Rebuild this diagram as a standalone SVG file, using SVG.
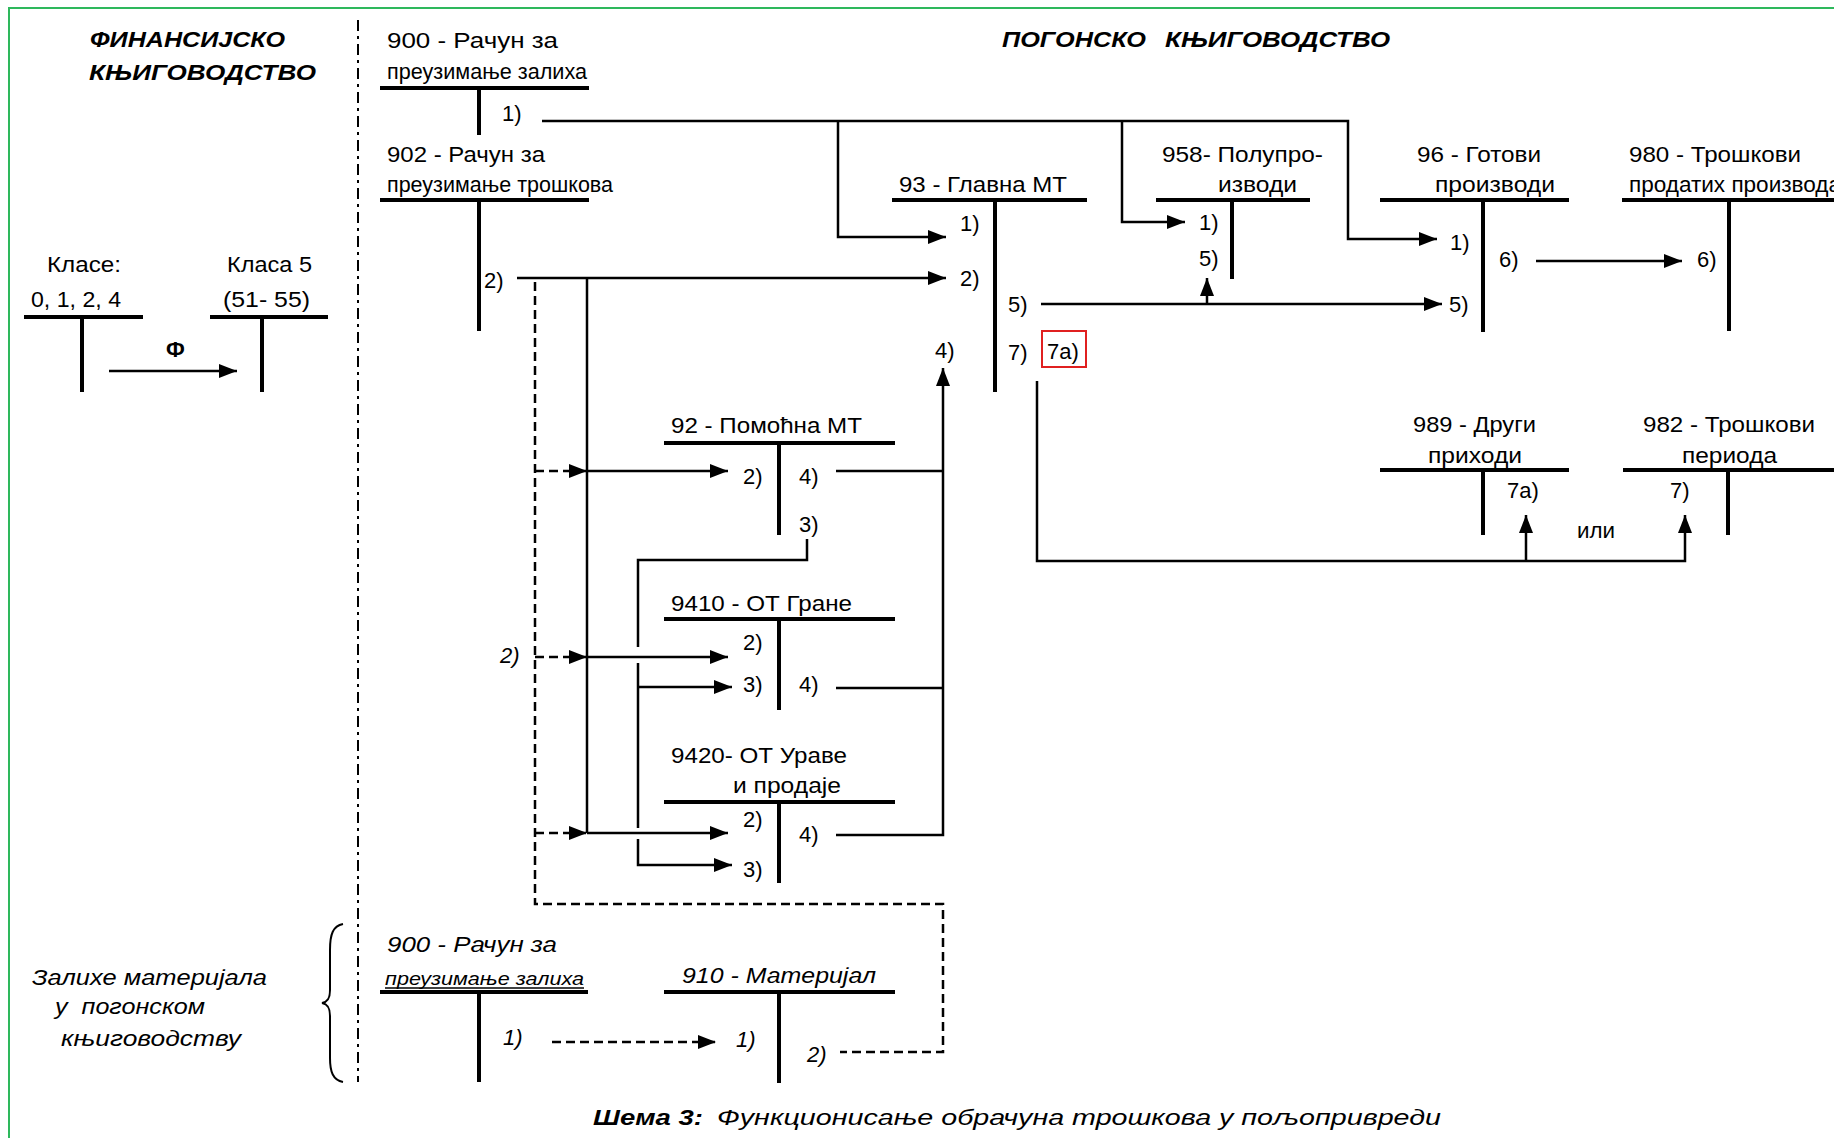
<svg xmlns="http://www.w3.org/2000/svg" width="1834" height="1138" viewBox="0 0 1834 1138">
<style>
text{font-family:"Liberation Sans",Arial,sans-serif;font-size:22px;fill:#000}
.b{font-weight:bold;font-style:italic}
.i{font-style:italic}
.bar{stroke:#000;stroke-width:4;fill:none}
.c{stroke:#000;stroke-width:2.5;fill:none}
.d{stroke:#000;stroke-width:2.5;fill:none;stroke-dasharray:9 5}
</style>
<defs>
<marker id="ah" markerUnits="userSpaceOnUse" markerWidth="18" markerHeight="14" refX="18" refY="7" orient="auto">
<path d="M0,0 L18,7 L0,14 Z" fill="#000"/>
</marker>
</defs>
<rect x="9" y="8" width="1900" height="1200" fill="#fff" stroke="#2eb85c" stroke-width="2"/>
<line x1="358" y1="20" x2="358" y2="1082" stroke="#000" stroke-width="2" stroke-dasharray="11 5 3 5"/>

<g id="titles">
<text class="b" x="90" y="47" textLength="195" lengthAdjust="spacingAndGlyphs">ФИНАНСИЈСКО</text>
<text class="b" x="89" y="80" textLength="227" lengthAdjust="spacingAndGlyphs">КЊИГОВОДСТВО</text>
<text class="b" x="1002" y="47" textLength="144" lengthAdjust="spacingAndGlyphs">ПОГОНСКО</text>
<text class="b" x="1165" y="47" textLength="225" lengthAdjust="spacingAndGlyphs">КЊИГОВОДСТВО</text>
</g>

<g id="klase">
<text x="47" y="272" textLength="74" lengthAdjust="spacingAndGlyphs">Класе:</text>
<text x="31" y="307" textLength="90" lengthAdjust="spacingAndGlyphs">0, 1, 2, 4</text>
<path class="bar" d="M24,317 H143 M82,317 V392"/>
</g>
<g id="klasa5">
<text x="227" y="272" textLength="85" lengthAdjust="spacingAndGlyphs">Класа 5</text>
<text x="223" y="307" textLength="87" lengthAdjust="spacingAndGlyphs">(51- 55)</text>
<path class="bar" d="M210,317 H328 M262,317 V392"/>
</g>
<text class="b" x="166" y="357" style="font-style:normal">Ф</text>

<g id="n900">
<text x="387" y="48" textLength="171" lengthAdjust="spacingAndGlyphs">900 - Рачун за</text>
<text x="387" y="79" textLength="200" lengthAdjust="spacingAndGlyphs">преузимање залиха</text>
<path class="bar" d="M380,88 H589 M479,88 V135"/>
<text x="502" y="121">1)</text>
</g>
<g id="n902">
<text x="387" y="162" textLength="158" lengthAdjust="spacingAndGlyphs">902 - Рачун за</text>
<text x="387" y="192" textLength="226" lengthAdjust="spacingAndGlyphs">преузимање трошкова</text>
<path class="bar" d="M380,200 H589 M479,200 V331"/>
<text x="484" y="288">2)</text>
</g>
<g id="n93">
<text x="899" y="192" textLength="168" lengthAdjust="spacingAndGlyphs">93 - Главна МТ</text>
<path class="bar" d="M892,200 H1087 M995,200 V392"/>
<text x="960" y="231">1)</text>
<text x="960" y="286">2)</text>
<text x="935" y="358">4)</text>
<text x="1008" y="312">5)</text>
<text x="1008" y="360">7)</text>
<rect x="1042" y="331" width="44" height="36" fill="none" stroke="#e02020" stroke-width="2"/>
<text x="1047" y="359">7a)</text>
</g>
<g id="n958">
<text x="1162" y="162" textLength="161" lengthAdjust="spacingAndGlyphs">958- Полупро-</text>
<text x="1218" y="192" textLength="79" lengthAdjust="spacingAndGlyphs">изводи</text>
<path class="bar" d="M1156,200 H1310 M1232,200 V279"/>
<text x="1199" y="230">1)</text>
<text x="1199" y="266">5)</text>
</g>
<g id="n96">
<text x="1417" y="162" textLength="124" lengthAdjust="spacingAndGlyphs">96 - Готови</text>
<text x="1435" y="192" textLength="120" lengthAdjust="spacingAndGlyphs">производи</text>
<path class="bar" d="M1380,200 H1569 M1483,200 V332"/>
<text x="1450" y="250">1)</text>
<text x="1449" y="312">5)</text>
<text x="1499" y="267">6)</text>
</g>
<g id="n980">
<text x="1629" y="162" textLength="172" lengthAdjust="spacingAndGlyphs">980 - Трошкови</text>
<text x="1629" y="192" textLength="212" lengthAdjust="spacingAndGlyphs">продатих производа</text>
<path class="bar" d="M1622,200 H1840 M1729,200 V331"/>
<text x="1697" y="267">6)</text>
</g>
<g id="n989">
<text x="1413" y="432" textLength="123" lengthAdjust="spacingAndGlyphs">989 - Други</text>
<text x="1428" y="463" textLength="94" lengthAdjust="spacingAndGlyphs">приходи</text>
<path class="bar" d="M1380,470 H1569 M1483,470 V535"/>
<text x="1507" y="498">7a)</text>
</g>
<g id="n982">
<text x="1643" y="432" textLength="172" lengthAdjust="spacingAndGlyphs">982 - Трошкови</text>
<text x="1682" y="463" textLength="95" lengthAdjust="spacingAndGlyphs">периода</text>
<path class="bar" d="M1623,470 H1840 M1728,470 V535"/>
<text x="1670" y="498">7)</text>
</g>
<text x="1577" y="538" textLength="38" lengthAdjust="spacingAndGlyphs">или</text>

<g id="n92">
<text x="671" y="433" textLength="191" lengthAdjust="spacingAndGlyphs">92 - Помоћна МТ</text>
<path class="bar" d="M664,443 H895 M779,443 V535"/>
<text x="743" y="484">2)</text>
<text x="799" y="484">4)</text>
<text x="799" y="532">3)</text>
</g>
<g id="n9410">
<text x="671" y="611" textLength="181" lengthAdjust="spacingAndGlyphs">9410 - ОТ Гране</text>
<path class="bar" d="M664,619 H895 M779,619 V710"/>
<text x="743" y="650">2)</text>
<text x="743" y="692">3)</text>
<text x="799" y="692">4)</text>
</g>
<g id="n9420">
<text x="671" y="763" textLength="176" lengthAdjust="spacingAndGlyphs">9420- ОТ Ураве</text>
<text x="733" y="793" textLength="108" lengthAdjust="spacingAndGlyphs">и продаје</text>
<path class="bar" d="M664,802 H895 M779,802 V883"/>
<text x="743" y="827">2)</text>
<text x="799" y="842">4)</text>
<text x="743" y="877">3)</text>
</g>
<text class="i" x="500" y="663">2)</text>

<g id="stock">
<text class="i" x="32" y="985" textLength="235" lengthAdjust="spacingAndGlyphs">Залихе материјала</text>
<text class="i" x="55" y="1014" textLength="150" lengthAdjust="spacingAndGlyphs" xml:space="preserve">у  погонском</text>
<text class="i" x="61" y="1046" textLength="180" lengthAdjust="spacingAndGlyphs">књиговодству</text>
<path d="M343,924 C333,926 330,934 330,950 L330,990 C330,998 328,1002 322,1003 C328,1004 330,1008 330,1016 L330,1058 C330,1072 333,1080 343,1082" fill="none" stroke="#000" stroke-width="2"/>
</g>
<g id="n900b">
<text class="i" x="387" y="952" textLength="170" lengthAdjust="spacingAndGlyphs">900 - Рачун за</text>
<text class="i" x="385" y="985" textLength="199" lengthAdjust="spacingAndGlyphs" style="font-size:19px">преузимање залиха</text>
<line x1="385" y1="988" x2="584" y2="988" stroke="#000" stroke-width="1.5"/>
<path class="bar" d="M380,992 H588 M479,992 V1082"/>
<text class="i" x="503" y="1045">1)</text>
</g>
<g id="n910">
<text class="i" x="682" y="983" textLength="194" lengthAdjust="spacingAndGlyphs">910 - Материјал</text>
<path class="bar" d="M664,992 H895 M779,992 V1083"/>
<text class="i" x="736" y="1047">1)</text>
<text class="i" x="807" y="1062">2)</text>
</g>

<g id="connectors">
<path class="c" d="M109,371 H237" marker-end="url(#ah)"/>
<path class="c" d="M542,121 H1348 V239 H1437" marker-end="url(#ah)"/>
<path class="c" d="M838,121 V237 H946" marker-end="url(#ah)"/>
<path class="c" d="M1122,121 V222 H1185" marker-end="url(#ah)"/>
<path class="c" d="M517,278 H946" marker-end="url(#ah)"/>
<path class="c" d="M587,278 V833"/>
<path class="c" d="M587,471 H728" marker-end="url(#ah)"/>
<path class="c" d="M587,657 H728" marker-end="url(#ah)"/>
<path class="c" d="M587,833 H728" marker-end="url(#ah)"/>
<path class="d" d="M535,282 V904 H943 V1052 H840"/>
<path class="d" d="M535,471 H587" marker-end="url(#ah)"/>
<path class="d" d="M535,657 H587" marker-end="url(#ah)"/>
<path class="d" d="M535,833 H587" marker-end="url(#ah)"/>
<path class="c" d="M807,539 V560 H638 V647 M638,663 V828"/>
<path class="c" d="M638,839 V865 H732" marker-end="url(#ah)"/>
<path class="c" d="M638,687 H732" marker-end="url(#ah)"/>
<path class="c" d="M836,471 H943 M836,688 H943"/>
<path class="c" d="M836,835 H943 V368" marker-end="url(#ah)"/>
<path class="c" d="M1041,304 H1442" marker-end="url(#ah)"/>
<path class="c" d="M1207,304 V278" marker-end="url(#ah)"/>
<path class="c" d="M1037,381 V561 H1685 V515" marker-end="url(#ah)"/>
<path class="c" d="M1526,561 V515" marker-end="url(#ah)"/>
<path class="c" d="M1536,261 H1682" marker-end="url(#ah)"/>
<path class="d" d="M552,1042 H716" marker-end="url(#ah)"/>
</g>

<g id="caption">
<text class="b" x="593" y="1125" textLength="110" lengthAdjust="spacingAndGlyphs">Шема 3:</text>
<text class="i" x="717" y="1125" textLength="724" lengthAdjust="spacingAndGlyphs">Функционисање обрачуна трошкова у пољопривреди</text>
</g>
</svg>
